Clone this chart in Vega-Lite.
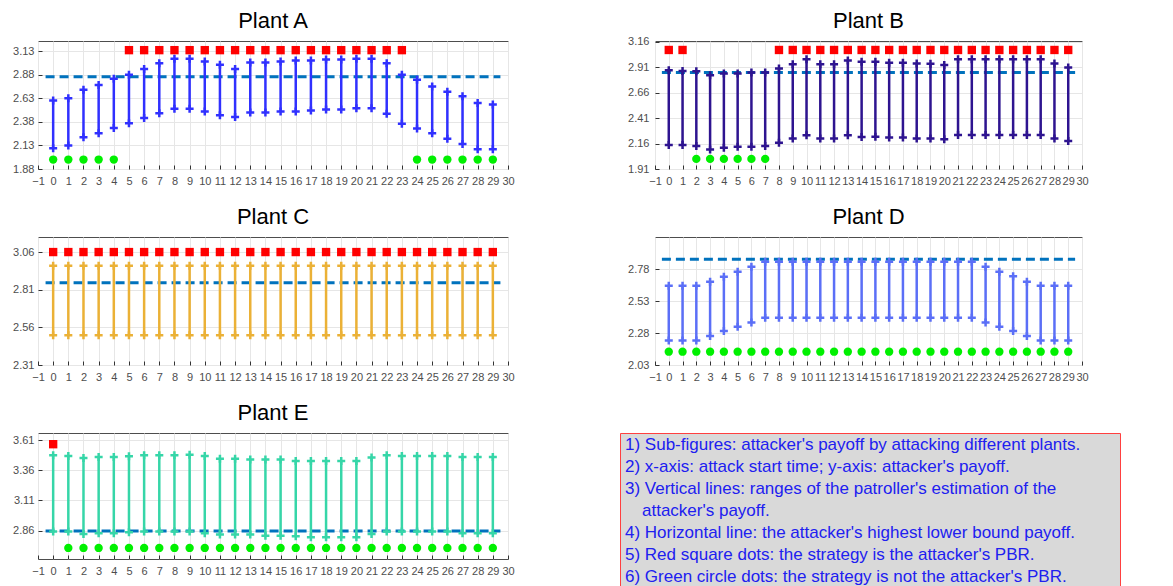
{
"$schema": "https://vega.github.io/schema/vega-lite/v6.json",
"padding": {"left": 0, "top": 9, "right": 0, "bottom": 0},
"background": "white",
"config": {
  "view": {"stroke": "#4d4d4d", "strokeWidth": 1},
  "axis": {"labelFont": "Liberation Sans", "labelFontSize": 11, "labelColor": "#4d4d4d", "domain": false, "gridColor": "#e6e6e6", "gridWidth": 1, "tickColor": "#333333", "tickSize": -4, "labelOverlap": false, "labelFlush": false, "tickCount": 100},
  "title": {"font": "Liberation Sans", "fontSize": 22, "fontWeight": "normal", "color": "#000000", "frame": "group", "offset": 8}
},
"datasets": {
  "ranges": [
    {"plant":"A","t":0,"lo":2.100,"hi":2.606},{"plant":"A","t":1,"lo":2.128,"hi":2.630},{"plant":"A","t":2,"lo":2.216,"hi":2.720},{"plant":"A","t":3,"lo":2.260,"hi":2.770},{"plant":"A","t":4,"lo":2.315,"hi":2.836},{"plant":"A","t":5,"lo":2.365,"hi":2.880},{"plant":"A","t":6,"lo":2.420,"hi":2.940},{"plant":"A","t":7,"lo":2.470,"hi":3.000},{"plant":"A","t":8,"lo":2.520,"hi":3.050},{"plant":"A","t":9,"lo":2.520,"hi":3.050},{"plant":"A","t":10,"lo":2.490,"hi":3.020},{"plant":"A","t":11,"lo":2.450,"hi":2.985},{"plant":"A","t":12,"lo":2.430,"hi":2.940},{"plant":"A","t":13,"lo":2.480,"hi":3.010},{"plant":"A","t":14,"lo":2.480,"hi":3.010},{"plant":"A","t":15,"lo":2.490,"hi":3.020},{"plant":"A","t":16,"lo":2.490,"hi":3.030},{"plant":"A","t":17,"lo":2.500,"hi":3.030},{"plant":"A","t":18,"lo":2.510,"hi":3.040},{"plant":"A","t":19,"lo":2.510,"hi":3.040},{"plant":"A","t":20,"lo":2.525,"hi":3.050},{"plant":"A","t":21,"lo":2.525,"hi":3.050},{"plant":"A","t":22,"lo":2.465,"hi":3.000},{"plant":"A","t":23,"lo":2.360,"hi":2.880},{"plant":"A","t":24,"lo":2.310,"hi":2.825},{"plant":"A","t":25,"lo":2.260,"hi":2.755},{"plant":"A","t":26,"lo":2.200,"hi":2.700},{"plant":"A","t":27,"lo":2.145,"hi":2.650},{"plant":"A","t":28,"lo":2.090,"hi":2.580},{"plant":"A","t":29,"lo":2.090,"hi":2.565},
    {"plant":"B","t":0,"lo":2.145,"hi":2.879},{"plant":"B","t":1,"lo":2.145,"hi":2.872},{"plant":"B","t":2,"lo":2.135,"hi":2.869},{"plant":"B","t":3,"lo":2.102,"hi":2.829},{"plant":"B","t":4,"lo":2.118,"hi":2.846},{"plant":"B","t":5,"lo":2.128,"hi":2.846},{"plant":"B","t":6,"lo":2.128,"hi":2.856},{"plant":"B","t":7,"lo":2.135,"hi":2.856},{"plant":"B","t":8,"lo":2.168,"hi":2.895},{"plant":"B","t":9,"lo":2.208,"hi":2.938},{"plant":"B","t":10,"lo":2.240,"hi":2.985},{"plant":"B","t":11,"lo":2.208,"hi":2.938},{"plant":"B","t":12,"lo":2.208,"hi":2.938},{"plant":"B","t":13,"lo":2.240,"hi":2.975},{"plant":"B","t":14,"lo":2.224,"hi":2.962},{"plant":"B","t":15,"lo":2.227,"hi":2.962},{"plant":"B","t":16,"lo":2.218,"hi":2.952},{"plant":"B","t":17,"lo":2.218,"hi":2.952},{"plant":"B","t":18,"lo":2.208,"hi":2.945},{"plant":"B","t":19,"lo":2.208,"hi":2.942},{"plant":"B","t":20,"lo":2.201,"hi":2.929},{"plant":"B","t":21,"lo":2.244,"hi":2.985},{"plant":"B","t":22,"lo":2.244,"hi":2.985},{"plant":"B","t":23,"lo":2.244,"hi":2.985},{"plant":"B","t":24,"lo":2.244,"hi":2.985},{"plant":"B","t":25,"lo":2.244,"hi":2.985},{"plant":"B","t":26,"lo":2.244,"hi":2.985},{"plant":"B","t":27,"lo":2.244,"hi":2.985},{"plant":"B","t":28,"lo":2.208,"hi":2.945},{"plant":"B","t":29,"lo":2.184,"hi":2.905},
    {"plant":"C","t":0,"lo":2.507,"hi":2.969},{"plant":"C","t":1,"lo":2.507,"hi":2.969},{"plant":"C","t":2,"lo":2.507,"hi":2.969},{"plant":"C","t":3,"lo":2.507,"hi":2.969},{"plant":"C","t":4,"lo":2.507,"hi":2.969},{"plant":"C","t":5,"lo":2.507,"hi":2.969},{"plant":"C","t":6,"lo":2.507,"hi":2.969},{"plant":"C","t":7,"lo":2.507,"hi":2.969},{"plant":"C","t":8,"lo":2.507,"hi":2.969},{"plant":"C","t":9,"lo":2.507,"hi":2.969},{"plant":"C","t":10,"lo":2.507,"hi":2.969},{"plant":"C","t":11,"lo":2.507,"hi":2.969},{"plant":"C","t":12,"lo":2.507,"hi":2.969},{"plant":"C","t":13,"lo":2.507,"hi":2.969},{"plant":"C","t":14,"lo":2.507,"hi":2.969},{"plant":"C","t":15,"lo":2.507,"hi":2.969},{"plant":"C","t":16,"lo":2.507,"hi":2.969},{"plant":"C","t":17,"lo":2.507,"hi":2.969},{"plant":"C","t":18,"lo":2.507,"hi":2.969},{"plant":"C","t":19,"lo":2.507,"hi":2.969},{"plant":"C","t":20,"lo":2.507,"hi":2.969},{"plant":"C","t":21,"lo":2.507,"hi":2.969},{"plant":"C","t":22,"lo":2.507,"hi":2.969},{"plant":"C","t":23,"lo":2.507,"hi":2.969},{"plant":"C","t":24,"lo":2.507,"hi":2.969},{"plant":"C","t":25,"lo":2.507,"hi":2.969},{"plant":"C","t":26,"lo":2.507,"hi":2.969},{"plant":"C","t":27,"lo":2.507,"hi":2.969},{"plant":"C","t":28,"lo":2.507,"hi":2.969},{"plant":"C","t":29,"lo":2.507,"hi":2.969},
    {"plant":"D","t":0,"lo":2.222,"hi":2.649},{"plant":"D","t":1,"lo":2.222,"hi":2.649},{"plant":"D","t":2,"lo":2.222,"hi":2.649},{"plant":"D","t":3,"lo":2.256,"hi":2.680},{"plant":"D","t":4,"lo":2.295,"hi":2.719},{"plant":"D","t":5,"lo":2.329,"hi":2.758},{"plant":"D","t":6,"lo":2.363,"hi":2.797},{"plant":"D","t":7,"lo":2.399,"hi":2.836},{"plant":"D","t":8,"lo":2.399,"hi":2.836},{"plant":"D","t":9,"lo":2.399,"hi":2.836},{"plant":"D","t":10,"lo":2.399,"hi":2.836},{"plant":"D","t":11,"lo":2.399,"hi":2.836},{"plant":"D","t":12,"lo":2.399,"hi":2.836},{"plant":"D","t":13,"lo":2.399,"hi":2.836},{"plant":"D","t":14,"lo":2.399,"hi":2.836},{"plant":"D","t":15,"lo":2.399,"hi":2.836},{"plant":"D","t":16,"lo":2.399,"hi":2.836},{"plant":"D","t":17,"lo":2.399,"hi":2.836},{"plant":"D","t":18,"lo":2.399,"hi":2.836},{"plant":"D","t":19,"lo":2.399,"hi":2.836},{"plant":"D","t":20,"lo":2.399,"hi":2.836},{"plant":"D","t":21,"lo":2.399,"hi":2.836},{"plant":"D","t":22,"lo":2.399,"hi":2.836},{"plant":"D","t":23,"lo":2.363,"hi":2.797},{"plant":"D","t":24,"lo":2.329,"hi":2.758},{"plant":"D","t":25,"lo":2.295,"hi":2.724},{"plant":"D","t":26,"lo":2.256,"hi":2.680},{"plant":"D","t":27,"lo":2.222,"hi":2.649},{"plant":"D","t":28,"lo":2.222,"hi":2.649},{"plant":"D","t":29,"lo":2.222,"hi":2.649},
    {"plant":"E","t":0,"lo":2.852,"hi":3.485},{"plant":"E","t":1,"lo":2.852,"hi":3.479},{"plant":"E","t":2,"lo":2.832,"hi":3.463},{"plant":"E","t":3,"lo":2.838,"hi":3.471},{"plant":"E","t":4,"lo":2.838,"hi":3.471},{"plant":"E","t":5,"lo":2.846,"hi":3.477},{"plant":"E","t":6,"lo":2.852,"hi":3.485},{"plant":"E","t":7,"lo":2.852,"hi":3.485},{"plant":"E","t":8,"lo":2.852,"hi":3.485},{"plant":"E","t":9,"lo":2.852,"hi":3.490},{"plant":"E","t":10,"lo":2.838,"hi":3.479},{"plant":"E","t":11,"lo":2.827,"hi":3.457},{"plant":"E","t":12,"lo":2.827,"hi":3.457},{"plant":"E","t":13,"lo":2.827,"hi":3.449},{"plant":"E","t":14,"lo":2.818,"hi":3.449},{"plant":"E","t":15,"lo":2.818,"hi":3.449},{"plant":"E","t":16,"lo":2.813,"hi":3.438},{"plant":"E","t":17,"lo":2.804,"hi":3.438},{"plant":"E","t":18,"lo":2.804,"hi":3.438},{"plant":"E","t":19,"lo":2.804,"hi":3.438},{"plant":"E","t":20,"lo":2.804,"hi":3.438},{"plant":"E","t":21,"lo":2.832,"hi":3.466},{"plant":"E","t":22,"lo":2.852,"hi":3.485},{"plant":"E","t":23,"lo":2.852,"hi":3.479},{"plant":"E","t":24,"lo":2.852,"hi":3.479},{"plant":"E","t":25,"lo":2.852,"hi":3.479},{"plant":"E","t":26,"lo":2.852,"hi":3.479},{"plant":"E","t":27,"lo":2.838,"hi":3.471},{"plant":"E","t":28,"lo":2.838,"hi":3.471},{"plant":"E","t":29,"lo":2.838,"hi":3.471}
  ],
  "pbr": [
    {"plant":"A","t":0,"y":1.98,"kind":"not PBR"},{"plant":"A","t":1,"y":1.98,"kind":"not PBR"},{"plant":"A","t":2,"y":1.98,"kind":"not PBR"},{"plant":"A","t":3,"y":1.98,"kind":"not PBR"},{"plant":"A","t":4,"y":1.98,"kind":"not PBR"},{"plant":"A","t":5,"y":3.14,"kind":"PBR"},{"plant":"A","t":6,"y":3.14,"kind":"PBR"},{"plant":"A","t":7,"y":3.14,"kind":"PBR"},{"plant":"A","t":8,"y":3.14,"kind":"PBR"},{"plant":"A","t":9,"y":3.14,"kind":"PBR"},{"plant":"A","t":10,"y":3.14,"kind":"PBR"},{"plant":"A","t":11,"y":3.14,"kind":"PBR"},{"plant":"A","t":12,"y":3.14,"kind":"PBR"},{"plant":"A","t":13,"y":3.14,"kind":"PBR"},{"plant":"A","t":14,"y":3.14,"kind":"PBR"},{"plant":"A","t":15,"y":3.14,"kind":"PBR"},{"plant":"A","t":16,"y":3.14,"kind":"PBR"},{"plant":"A","t":17,"y":3.14,"kind":"PBR"},{"plant":"A","t":18,"y":3.14,"kind":"PBR"},{"plant":"A","t":19,"y":3.14,"kind":"PBR"},{"plant":"A","t":20,"y":3.14,"kind":"PBR"},{"plant":"A","t":21,"y":3.14,"kind":"PBR"},{"plant":"A","t":22,"y":3.14,"kind":"PBR"},{"plant":"A","t":23,"y":3.14,"kind":"PBR"},{"plant":"A","t":24,"y":1.98,"kind":"not PBR"},{"plant":"A","t":25,"y":1.98,"kind":"not PBR"},{"plant":"A","t":26,"y":1.98,"kind":"not PBR"},{"plant":"A","t":27,"y":1.98,"kind":"not PBR"},{"plant":"A","t":28,"y":1.98,"kind":"not PBR"},{"plant":"A","t":29,"y":1.98,"kind":"not PBR"},
    {"plant":"B","t":0,"y":3.077,"kind":"PBR"},{"plant":"B","t":1,"y":3.077,"kind":"PBR"},{"plant":"B","t":2,"y":2.009,"kind":"not PBR"},{"plant":"B","t":3,"y":2.009,"kind":"not PBR"},{"plant":"B","t":4,"y":2.009,"kind":"not PBR"},{"plant":"B","t":5,"y":2.009,"kind":"not PBR"},{"plant":"B","t":6,"y":2.009,"kind":"not PBR"},{"plant":"B","t":7,"y":2.009,"kind":"not PBR"},{"plant":"B","t":8,"y":3.077,"kind":"PBR"},{"plant":"B","t":9,"y":3.077,"kind":"PBR"},{"plant":"B","t":10,"y":3.077,"kind":"PBR"},{"plant":"B","t":11,"y":3.077,"kind":"PBR"},{"plant":"B","t":12,"y":3.077,"kind":"PBR"},{"plant":"B","t":13,"y":3.077,"kind":"PBR"},{"plant":"B","t":14,"y":3.077,"kind":"PBR"},{"plant":"B","t":15,"y":3.077,"kind":"PBR"},{"plant":"B","t":16,"y":3.077,"kind":"PBR"},{"plant":"B","t":17,"y":3.077,"kind":"PBR"},{"plant":"B","t":18,"y":3.077,"kind":"PBR"},{"plant":"B","t":19,"y":3.077,"kind":"PBR"},{"plant":"B","t":20,"y":3.077,"kind":"PBR"},{"plant":"B","t":21,"y":3.077,"kind":"PBR"},{"plant":"B","t":22,"y":3.077,"kind":"PBR"},{"plant":"B","t":23,"y":3.077,"kind":"PBR"},{"plant":"B","t":24,"y":3.077,"kind":"PBR"},{"plant":"B","t":25,"y":3.077,"kind":"PBR"},{"plant":"B","t":26,"y":3.077,"kind":"PBR"},{"plant":"B","t":27,"y":3.077,"kind":"PBR"},{"plant":"B","t":28,"y":3.077,"kind":"PBR"},{"plant":"B","t":29,"y":3.077,"kind":"PBR"},
    {"plant":"C","t":0,"y":3.06,"kind":"PBR"},{"plant":"C","t":1,"y":3.06,"kind":"PBR"},{"plant":"C","t":2,"y":3.06,"kind":"PBR"},{"plant":"C","t":3,"y":3.06,"kind":"PBR"},{"plant":"C","t":4,"y":3.06,"kind":"PBR"},{"plant":"C","t":5,"y":3.06,"kind":"PBR"},{"plant":"C","t":6,"y":3.06,"kind":"PBR"},{"plant":"C","t":7,"y":3.06,"kind":"PBR"},{"plant":"C","t":8,"y":3.06,"kind":"PBR"},{"plant":"C","t":9,"y":3.06,"kind":"PBR"},{"plant":"C","t":10,"y":3.06,"kind":"PBR"},{"plant":"C","t":11,"y":3.06,"kind":"PBR"},{"plant":"C","t":12,"y":3.06,"kind":"PBR"},{"plant":"C","t":13,"y":3.06,"kind":"PBR"},{"plant":"C","t":14,"y":3.06,"kind":"PBR"},{"plant":"C","t":15,"y":3.06,"kind":"PBR"},{"plant":"C","t":16,"y":3.06,"kind":"PBR"},{"plant":"C","t":17,"y":3.06,"kind":"PBR"},{"plant":"C","t":18,"y":3.06,"kind":"PBR"},{"plant":"C","t":19,"y":3.06,"kind":"PBR"},{"plant":"C","t":20,"y":3.06,"kind":"PBR"},{"plant":"C","t":21,"y":3.06,"kind":"PBR"},{"plant":"C","t":22,"y":3.06,"kind":"PBR"},{"plant":"C","t":23,"y":3.06,"kind":"PBR"},{"plant":"C","t":24,"y":3.06,"kind":"PBR"},{"plant":"C","t":25,"y":3.06,"kind":"PBR"},{"plant":"C","t":26,"y":3.06,"kind":"PBR"},{"plant":"C","t":27,"y":3.06,"kind":"PBR"},{"plant":"C","t":28,"y":3.06,"kind":"PBR"},{"plant":"C","t":29,"y":3.06,"kind":"PBR"},
    {"plant":"D","t":0,"y":2.134,"kind":"not PBR"},{"plant":"D","t":1,"y":2.134,"kind":"not PBR"},{"plant":"D","t":2,"y":2.134,"kind":"not PBR"},{"plant":"D","t":3,"y":2.134,"kind":"not PBR"},{"plant":"D","t":4,"y":2.134,"kind":"not PBR"},{"plant":"D","t":5,"y":2.134,"kind":"not PBR"},{"plant":"D","t":6,"y":2.134,"kind":"not PBR"},{"plant":"D","t":7,"y":2.134,"kind":"not PBR"},{"plant":"D","t":8,"y":2.134,"kind":"not PBR"},{"plant":"D","t":9,"y":2.134,"kind":"not PBR"},{"plant":"D","t":10,"y":2.134,"kind":"not PBR"},{"plant":"D","t":11,"y":2.134,"kind":"not PBR"},{"plant":"D","t":12,"y":2.134,"kind":"not PBR"},{"plant":"D","t":13,"y":2.134,"kind":"not PBR"},{"plant":"D","t":14,"y":2.134,"kind":"not PBR"},{"plant":"D","t":15,"y":2.134,"kind":"not PBR"},{"plant":"D","t":16,"y":2.134,"kind":"not PBR"},{"plant":"D","t":17,"y":2.134,"kind":"not PBR"},{"plant":"D","t":18,"y":2.134,"kind":"not PBR"},{"plant":"D","t":19,"y":2.134,"kind":"not PBR"},{"plant":"D","t":20,"y":2.134,"kind":"not PBR"},{"plant":"D","t":21,"y":2.134,"kind":"not PBR"},{"plant":"D","t":22,"y":2.134,"kind":"not PBR"},{"plant":"D","t":23,"y":2.134,"kind":"not PBR"},{"plant":"D","t":24,"y":2.134,"kind":"not PBR"},{"plant":"D","t":25,"y":2.134,"kind":"not PBR"},{"plant":"D","t":26,"y":2.134,"kind":"not PBR"},{"plant":"D","t":27,"y":2.134,"kind":"not PBR"},{"plant":"D","t":28,"y":2.134,"kind":"not PBR"},{"plant":"D","t":29,"y":2.134,"kind":"not PBR"},
    {"plant":"E","t":0,"y":3.577,"kind":"PBR"},{"plant":"E","t":1,"y":2.716,"kind":"not PBR"},{"plant":"E","t":2,"y":2.716,"kind":"not PBR"},{"plant":"E","t":3,"y":2.716,"kind":"not PBR"},{"plant":"E","t":4,"y":2.716,"kind":"not PBR"},{"plant":"E","t":5,"y":2.716,"kind":"not PBR"},{"plant":"E","t":6,"y":2.716,"kind":"not PBR"},{"plant":"E","t":7,"y":2.716,"kind":"not PBR"},{"plant":"E","t":8,"y":2.716,"kind":"not PBR"},{"plant":"E","t":9,"y":2.716,"kind":"not PBR"},{"plant":"E","t":10,"y":2.716,"kind":"not PBR"},{"plant":"E","t":11,"y":2.716,"kind":"not PBR"},{"plant":"E","t":12,"y":2.716,"kind":"not PBR"},{"plant":"E","t":13,"y":2.716,"kind":"not PBR"},{"plant":"E","t":14,"y":2.716,"kind":"not PBR"},{"plant":"E","t":15,"y":2.716,"kind":"not PBR"},{"plant":"E","t":16,"y":2.716,"kind":"not PBR"},{"plant":"E","t":17,"y":2.716,"kind":"not PBR"},{"plant":"E","t":18,"y":2.716,"kind":"not PBR"},{"plant":"E","t":19,"y":2.716,"kind":"not PBR"},{"plant":"E","t":20,"y":2.716,"kind":"not PBR"},{"plant":"E","t":21,"y":2.716,"kind":"not PBR"},{"plant":"E","t":22,"y":2.716,"kind":"not PBR"},{"plant":"E","t":23,"y":2.716,"kind":"not PBR"},{"plant":"E","t":24,"y":2.716,"kind":"not PBR"},{"plant":"E","t":25,"y":2.716,"kind":"not PBR"},{"plant":"E","t":26,"y":2.716,"kind":"not PBR"},{"plant":"E","t":27,"y":2.716,"kind":"not PBR"},{"plant":"E","t":28,"y":2.716,"kind":"not PBR"},{"plant":"E","t":29,"y":2.716,"kind":"not PBR"}
  ],
  "lbound": [
    {"plant":"A","x0":-0.5,"x1":29.5,"y":2.857},{"plant":"B","x0":-0.5,"x1":29.5,"y":2.857},{"plant":"C","x0":-0.5,"x1":29.5,"y":2.857},{"plant":"D","x0":-0.5,"x1":29.5,"y":2.857},{"plant":"E","x0":-0.5,"x1":29.5,"y":2.857}
  ],
  "notes": [
    {"row":0,"indent":0,"text":"1) Sub-figures: attacker's payoff by attacking different plants."},
    {"row":1,"indent":0,"text":"2) x-axis: attack start time; y-axis: attacker's payoff."},
    {"row":2,"indent":0,"text":"3) Vertical lines: ranges of the patroller's estimation of the"},
    {"row":3,"indent":1,"text":"attacker's payoff."},
    {"row":4,"indent":0,"text":"4) Horizontal line: the attacker's highest lower bound payoff."},
    {"row":5,"indent":0,"text":"5) Red square dots: the strategy is the attacker's PBR."},
    {"row":6,"indent":0,"text":"6) Green circle dots: the strategy is not the attacker's PBR."}
  ]
},
"spacing": 18,
"vconcat": [
 {"spacing": 104, "hconcat": [
  {"width": 470, "height": 128, "title": "Plant A", "layer": [
    {"data":{"name":"lbound"},"transform":[{"filter":"datum.plant==='A'"}],"mark":{"type":"rule","color":"#0072bd","strokeWidth":3,"strokeDash":[9,5]},
     "encoding":{"x":{"field":"x0","type":"quantitative","title":null,"scale":{"domain":[-1,30],"nice":false,"zero":false},"axis":{"values":[-1,0,1,2,3,4,5,6,7,8,9,10,11,12,13,14,15,16,17,18,19,20,21,22,23,24,25,26,27,28,29,30],"format":"d","grid":true,"labelPadding":10}},"x2":{"field":"x1"},
       "y":{"field":"y","type":"quantitative","title":null,"scale":{"domain":[1.88,3.237],"nice":false,"zero":false},"axis":{"values":[1.88,2.13,2.38,2.63,2.88,3.13],"format":".2f","grid":true,"labelPadding":8,"minExtent":37,"maxExtent":37}}}},
    {"data":{"name":"ranges"},"transform":[{"filter":"datum.plant==='A'"}],"mark":{"type":"rule","color":"#3030ff","strokeWidth":2.5},
     "encoding":{"x":{"field":"t","type":"quantitative","title":null},"y":{"field":"lo","type":"quantitative","title":null},"y2":{"field":"hi"}}},
    {"data":{"name":"ranges"},"transform":[{"filter":"datum.plant==='A'"}],"mark":{"type":"point","shape":"M-1,0H1M0,-1V1","filled":false,"size":64,"strokeWidth":2.5,"color":"#3030ff","opacity":1},
     "encoding":{"x":{"field":"t","type":"quantitative","title":null},"y":{"field":"lo","type":"quantitative","title":null}}},
    {"data":{"name":"ranges"},"transform":[{"filter":"datum.plant==='A'"}],"mark":{"type":"point","shape":"M-1,0H1M0,-1V1","filled":false,"size":64,"strokeWidth":2.5,"color":"#3030ff","opacity":1},
     "encoding":{"x":{"field":"t","type":"quantitative","title":null},"y":{"field":"hi","type":"quantitative","title":null}}},
    {"data":{"name":"pbr"},"transform":[{"filter":"datum.plant==='A'"}],"mark":{"type":"point","filled":true,"opacity":1,"size":70,"strokeWidth":0},
     "encoding":{"x":{"field":"t","type":"quantitative","title":null},"y":{"field":"y","type":"quantitative","title":null},
       "color":{"field":"kind","type":"nominal","scale":{"domain":["PBR","not PBR"],"range":["#ff0000","#00f000"]},"legend":null},
       "shape":{"field":"kind","type":"nominal","scale":{"domain":["PBR","not PBR"],"range":["square","circle"]},"legend":null}}}
  ]},
  {"width": 427, "height": 128, "title": {"text": "Plant B", "offset": 3}, "layer": [
    {"data":{"name":"lbound"},"transform":[{"filter":"datum.plant==='B'"}],"mark":{"type":"rule","color":"#0072bd","strokeWidth":3,"strokeDash":[9,5]},
     "encoding":{"x":{"field":"x0","type":"quantitative","title":null,"scale":{"domain":[-1,30],"nice":false,"zero":false},"axis":{"values":[-1,0,1,2,3,4,5,6,7,8,9,10,11,12,13,14,15,16,17,18,19,20,21,22,23,24,25,26,27,28,29,30],"format":"d","grid":true,"labelPadding":10}},"x2":{"field":"x1"},
       "y":{"field":"y","type":"quantitative","title":null,"scale":{"domain":[1.91,3.165],"nice":false,"zero":false},"axis":{"values":[1.91,2.16,2.41,2.66,2.91,3.16],"format":".2f","grid":true,"labelPadding":10,"minExtent":35,"maxExtent":35}}}},
    {"data":{"name":"ranges"},"transform":[{"filter":"datum.plant==='B'"}],"mark":{"type":"rule","color":"#2e1490","strokeWidth":2.5},
     "encoding":{"x":{"field":"t","type":"quantitative","title":null},"y":{"field":"lo","type":"quantitative","title":null},"y2":{"field":"hi"}}},
    {"data":{"name":"ranges"},"transform":[{"filter":"datum.plant==='B'"}],"mark":{"type":"point","shape":"M-1,0H1M0,-1V1","filled":false,"size":64,"strokeWidth":2.5,"color":"#2e1490","opacity":1},
     "encoding":{"x":{"field":"t","type":"quantitative","title":null},"y":{"field":"lo","type":"quantitative","title":null}}},
    {"data":{"name":"ranges"},"transform":[{"filter":"datum.plant==='B'"}],"mark":{"type":"point","shape":"M-1,0H1M0,-1V1","filled":false,"size":64,"strokeWidth":2.5,"color":"#2e1490","opacity":1},
     "encoding":{"x":{"field":"t","type":"quantitative","title":null},"y":{"field":"hi","type":"quantitative","title":null}}},
    {"data":{"name":"pbr"},"transform":[{"filter":"datum.plant==='B'"}],"mark":{"type":"point","filled":true,"opacity":1,"size":70,"strokeWidth":0},
     "encoding":{"x":{"field":"t","type":"quantitative","title":null},"y":{"field":"y","type":"quantitative","title":null},
       "color":{"field":"kind","type":"nominal","scale":{"domain":["PBR","not PBR"],"range":["#ff0000","#00f000"]},"legend":null},
       "shape":{"field":"kind","type":"nominal","scale":{"domain":["PBR","not PBR"],"range":["square","circle"]},"legend":null}}}
  ]}
 ]},
 {"spacing": 104, "hconcat": [
  {"width": 470, "height": 128, "title": "Plant C", "layer": [
    {"data":{"name":"lbound"},"transform":[{"filter":"datum.plant==='C'"}],"mark":{"type":"rule","color":"#0072bd","strokeWidth":3,"strokeDash":[9,5]},
     "encoding":{"x":{"field":"x0","type":"quantitative","title":null,"scale":{"domain":[-1,30],"nice":false,"zero":false},"axis":{"values":[-1,0,1,2,3,4,5,6,7,8,9,10,11,12,13,14,15,16,17,18,19,20,21,22,23,24,25,26,27,28,29,30],"format":"d","grid":true,"labelPadding":10}},"x2":{"field":"x1"},
       "y":{"field":"y","type":"quantitative","title":null,"scale":{"domain":[2.31,3.16],"nice":false,"zero":false},"axis":{"values":[2.31,2.56,2.81,3.06],"format":".2f","grid":true,"labelPadding":8,"minExtent":37,"maxExtent":37}}}},
    {"data":{"name":"ranges"},"transform":[{"filter":"datum.plant==='C'"}],"mark":{"type":"rule","color":"#ebb136","strokeWidth":2.5},
     "encoding":{"x":{"field":"t","type":"quantitative","title":null},"y":{"field":"lo","type":"quantitative","title":null},"y2":{"field":"hi"}}},
    {"data":{"name":"ranges"},"transform":[{"filter":"datum.plant==='C'"}],"mark":{"type":"point","shape":"M-1,0H1M0,-1V1","filled":false,"size":64,"strokeWidth":2.5,"color":"#ebb136","opacity":1},
     "encoding":{"x":{"field":"t","type":"quantitative","title":null},"y":{"field":"lo","type":"quantitative","title":null}}},
    {"data":{"name":"ranges"},"transform":[{"filter":"datum.plant==='C'"}],"mark":{"type":"point","shape":"M-1,0H1M0,-1V1","filled":false,"size":64,"strokeWidth":2.5,"color":"#ebb136","opacity":1},
     "encoding":{"x":{"field":"t","type":"quantitative","title":null},"y":{"field":"hi","type":"quantitative","title":null}}},
    {"data":{"name":"pbr"},"transform":[{"filter":"datum.plant==='C'"}],"mark":{"type":"point","filled":true,"opacity":1,"size":70,"strokeWidth":0},
     "encoding":{"x":{"field":"t","type":"quantitative","title":null},"y":{"field":"y","type":"quantitative","title":null},
       "color":{"field":"kind","type":"nominal","scale":{"domain":["PBR","not PBR"],"range":["#ff0000","#00f000"]},"legend":null},
       "shape":{"field":"kind","type":"nominal","scale":{"domain":["PBR","not PBR"],"range":["square","circle"]},"legend":null}}}
  ]},
  {"width": 427, "height": 128, "title": "Plant D", "layer": [
    {"data":{"name":"lbound"},"transform":[{"filter":"datum.plant==='D'"}],"mark":{"type":"rule","color":"#0072bd","strokeWidth":3,"strokeDash":[9,5]},
     "encoding":{"x":{"field":"x0","type":"quantitative","title":null,"scale":{"domain":[-1,30],"nice":false,"zero":false},"axis":{"values":[-1,0,1,2,3,4,5,6,7,8,9,10,11,12,13,14,15,16,17,18,19,20,21,22,23,24,25,26,27,28,29,30],"format":"d","grid":true,"labelPadding":10}},"x2":{"field":"x1"},
       "y":{"field":"y","type":"quantitative","title":null,"scale":{"domain":[2.03,3.03],"nice":false,"zero":false},"axis":{"values":[2.03,2.28,2.53,2.78],"format":".2f","grid":true,"labelPadding":10,"minExtent":35,"maxExtent":35}}}},
    {"data":{"name":"ranges"},"transform":[{"filter":"datum.plant==='D'"}],"mark":{"type":"rule","color":"#5b6ff7","strokeWidth":2.5},
     "encoding":{"x":{"field":"t","type":"quantitative","title":null},"y":{"field":"lo","type":"quantitative","title":null},"y2":{"field":"hi"}}},
    {"data":{"name":"ranges"},"transform":[{"filter":"datum.plant==='D'"}],"mark":{"type":"point","shape":"M-1,0H1M0,-1V1","filled":false,"size":64,"strokeWidth":2.5,"color":"#5b6ff7","opacity":1},
     "encoding":{"x":{"field":"t","type":"quantitative","title":null},"y":{"field":"lo","type":"quantitative","title":null}}},
    {"data":{"name":"ranges"},"transform":[{"filter":"datum.plant==='D'"}],"mark":{"type":"point","shape":"M-1,0H1M0,-1V1","filled":false,"size":64,"strokeWidth":2.5,"color":"#5b6ff7","opacity":1},
     "encoding":{"x":{"field":"t","type":"quantitative","title":null},"y":{"field":"hi","type":"quantitative","title":null}}},
    {"data":{"name":"pbr"},"transform":[{"filter":"datum.plant==='D'"}],"mark":{"type":"point","filled":true,"opacity":1,"size":70,"strokeWidth":0},
     "encoding":{"x":{"field":"t","type":"quantitative","title":null},"y":{"field":"y","type":"quantitative","title":null},
       "color":{"field":"kind","type":"nominal","scale":{"domain":["PBR","not PBR"],"range":["#ff0000","#00f000"]},"legend":null},
       "shape":{"field":"kind","type":"nominal","scale":{"domain":["PBR","not PBR"],"range":["square","circle"]},"legend":null}}}
  ]}
 ]},
 {"spacing": 104, "hconcat": [
  {"width": 470, "height": 126, "title": "Plant E", "layer": [
    {"data":{"name":"lbound"},"transform":[{"filter":"datum.plant==='E'"}],"mark":{"type":"rule","color":"#0072bd","strokeWidth":3,"strokeDash":[9,5]},
     "encoding":{"x":{"field":"x0","type":"quantitative","title":null,"scale":{"domain":[-1,30],"nice":false,"zero":false},"axis":{"values":[-1,0,1,2,3,4,5,6,7,8,9,10,11,12,13,14,15,16,17,18,19,20,21,22,23,24,25,26,27,28,29,30],"format":"d","grid":true,"labelPadding":10}},"x2":{"field":"x1"},
       "y":{"field":"y","type":"quantitative","title":null,"scale":{"domain":[2.624,3.67],"nice":false,"zero":false},"axis":{"values":[2.86,3.11,3.36,3.61],"format":".2f","grid":true,"labelPadding":8,"minExtent":37,"maxExtent":37}}}},
    {"data":{"name":"ranges"},"transform":[{"filter":"datum.plant==='E'"}],"mark":{"type":"rule","color":"#36d6a8","strokeWidth":2.5},
     "encoding":{"x":{"field":"t","type":"quantitative","title":null},"y":{"field":"lo","type":"quantitative","title":null},"y2":{"field":"hi"}}},
    {"data":{"name":"ranges"},"transform":[{"filter":"datum.plant==='E'"}],"mark":{"type":"point","shape":"M-1,0H1M0,-1V1","filled":false,"size":64,"strokeWidth":2.5,"color":"#36d6a8","opacity":1},
     "encoding":{"x":{"field":"t","type":"quantitative","title":null},"y":{"field":"lo","type":"quantitative","title":null}}},
    {"data":{"name":"ranges"},"transform":[{"filter":"datum.plant==='E'"}],"mark":{"type":"point","shape":"M-1,0H1M0,-1V1","filled":false,"size":64,"strokeWidth":2.5,"color":"#36d6a8","opacity":1},
     "encoding":{"x":{"field":"t","type":"quantitative","title":null},"y":{"field":"hi","type":"quantitative","title":null}}},
    {"data":{"name":"pbr"},"transform":[{"filter":"datum.plant==='E'"}],"mark":{"type":"point","filled":true,"opacity":1,"size":70,"strokeWidth":0},
     "encoding":{"x":{"field":"t","type":"quantitative","title":null},"y":{"field":"y","type":"quantitative","title":null},
       "color":{"field":"kind","type":"nominal","scale":{"domain":["PBR","not PBR"],"range":["#ff0000","#00f000"]},"legend":null},
       "shape":{"field":"kind","type":"nominal","scale":{"domain":["PBR","not PBR"],"range":["square","circle"]},"legend":null}}}
  ]},
  {"width": 500, "height": 160, "view": {"fill": "#d9d9d9", "stroke": "#ff4040", "strokeWidth": 1},
   "data": {"name": "notes"},
   "mark": {"type": "text", "align": "left", "baseline": "middle", "font": "Liberation Sans", "fontSize": 17, "color": "#2020f0"},
   "encoding": {
     "x": {"field": "indent", "type": "quantitative", "scale": {"domain": [-0.294, 29.12], "nice": false, "zero": false}, "axis": null},
     "y": {"field": "row", "type": "quantitative", "scale": {"domain": [-0.545, 6.727], "reverse": true, "nice": false, "zero": false}, "axis": null},
     "text": {"field": "text"}
   }}
 ]}
]
}
